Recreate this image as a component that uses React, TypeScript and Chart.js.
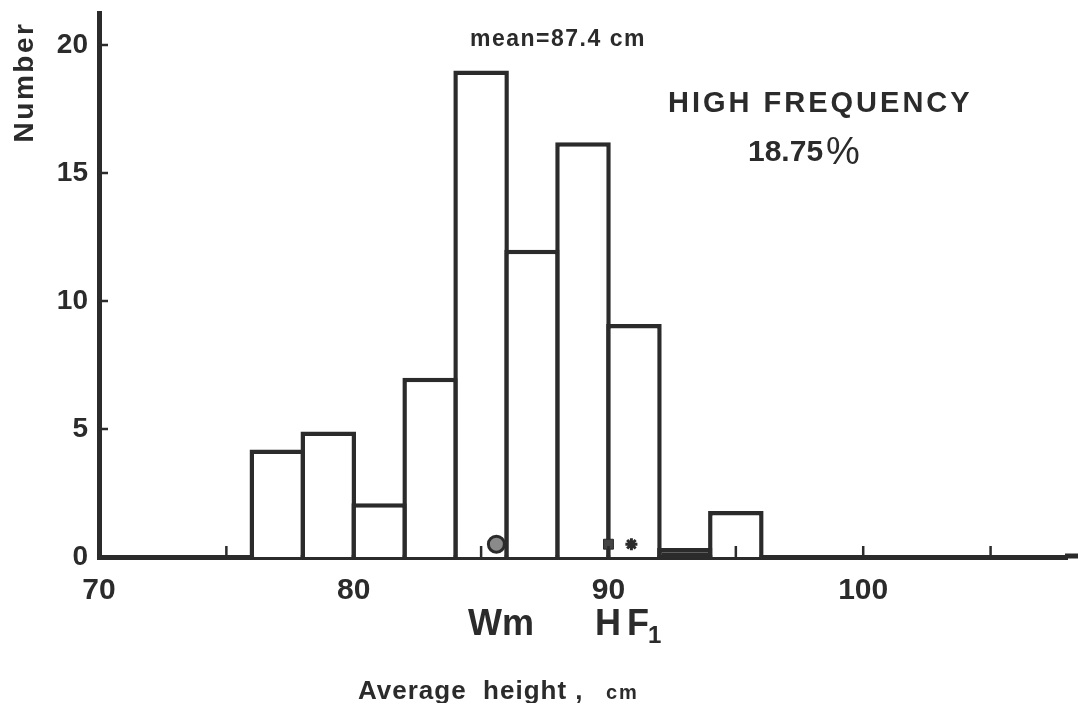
import React, { useEffect, useRef } from "react";
import { Chart, registerables } from "chart.js";

Chart.register(...registerables);

// ---- data ----
const BIN_STARTS = [76, 78, 80, 82, 84, 86, 88, 90, 92, 94];
const BIN_WIDTH = 2;
const COUNTS = [4.2, 4.9, 2.1, 7.0, 19.0, 12.0, 16.2, 9.1, 0.35, 1.8];
const BAR_FILLS = ["#fff", "#fff", "#fff", "#fff", "#fff", "#fff", "#fff", "#fff", "#2b2b2b", "#fff"];
const MARKER_X = [85.6, 90.0, 90.9];
const MARKER_Y = [0.5, 0.5, 0.5];
const MARKER_STYLES = ["circle", "rect", "star"];
const MARKER_FILLS = ["#8a8a8a", "#444", "#333"];
const X_MIN = 70;
const X_MAX = 108;
const Y_MAX = 21.25;
const X_LABELED = [70, 80, 90, 100];
const Y_TICKS = [0, 5, 10, 15, 20];
const X_MINOR = [75, 80, 85, 90, 95, 100, 105];

const INK = "#2b2b2b";
const FONT = "'Liberation Sans', Arial, Helvetica, sans-serif";
const AXIS_W = 5;

const annotations = {
  id: "annotations",
  afterDatasetsDraw(chart: any) {
    const { ctx, scales } = chart;
    const xs = scales.x;
    const ys = scales.y;
    ctx.save();
    ctx.strokeStyle = INK;
    ctx.lineCap = "butt";
    // baseline continues to the edge of the figure
    const yBase = ys.getPixelForValue(0);
    ctx.lineWidth = AXIS_W;
    ctx.beginPath();
    ctx.moveTo(xs.right - 2, yBase - 1);
    ctx.lineTo(chart.width, yBase - 1);
    ctx.stroke();
    // inner tick marks on y axis
    ctx.lineWidth = 2.5;
    for (const v of Y_TICKS) {
      if (v === 0) continue;
      const y = ys.getPixelForValue(v);
      ctx.beginPath();
      ctx.moveTo(xs.left, y);
      ctx.lineTo(xs.left + 9, y);
      ctx.stroke();
    }
    // inner tick marks on x axis
    for (const v of X_MINOR) {
      const x = xs.getPixelForValue(v);
      ctx.beginPath();
      ctx.moveTo(x, yBase);
      ctx.lineTo(x, yBase - 11);
      ctx.stroke();
    }

    ctx.fillStyle = INK;
    ctx.textBaseline = "alphabetic";
    ctx.textAlign = "left";

    // y title
    ctx.save();
    ctx.translate(33, 82);
    ctx.rotate(-Math.PI / 2);
    ctx.textAlign = "center";
    ctx.font = `bold 28px ${FONT}`;
    (ctx as any).letterSpacing = "2.5px";
    ctx.fillText("Number", 0, 0);
    ctx.restore();

    // mean
    ctx.font = `bold 23px ${FONT}`;
    (ctx as any).letterSpacing = "1.5px";
    ctx.fillText("mean=87.4 cm", 470, 46);

    // HIGH FREQUENCY
    ctx.font = `bold 29px ${FONT}`;
    (ctx as any).letterSpacing = "3px";
    ctx.fillText("HIGH FREQUENCY", 668, 112);
    (ctx as any).letterSpacing = "0px";
    ctx.font = `bold 30px ${FONT}`;
    ctx.fillText("18.75", 748, 161);
    ctx.font = `38px ${FONT}`;
    ctx.fillText("%", 826, 164);

    // Wm, HF1
    ctx.font = `bold 36px ${FONT}`;
    ctx.fillText("Wm", 468, 635);
    ctx.fillText("H", 595, 635);
    ctx.fillText("F", 627, 635);
    ctx.font = `bold 24px ${FONT}`;
    ctx.fillText("1", 648, 643);

    // x title
    ctx.font = `bold 26px ${FONT}`;
    (ctx as any).letterSpacing = "1px";
    ctx.fillText("Average  height ,", 358, 699);
    ctx.font = `bold 20px ${FONT}`;
    (ctx as any).letterSpacing = "2px";
    ctx.fillText("cm", 606, 699);
    ctx.restore();
  },
};

export default function App() {
  const ref = useRef<HTMLCanvasElement | null>(null);

  useEffect(() => {
    if (!ref.current) return;
    const barData = BIN_STARTS.map((s, i) => ({ x: s + BIN_WIDTH / 2, y: COUNTS[i] }));
    const markerData = MARKER_X.map((x, i) => ({ x, y: MARKER_Y[i] }));
    const chart = new Chart(ref.current, {
      type: "bar",
      data: {
        datasets: [
          {
            type: "bar",
            data: barData as any,
            backgroundColor: BAR_FILLS,
            borderColor: INK,
            borderWidth: 4.5,
            borderSkipped: "bottom",
            barPercentage: 1.09,
            categoryPercentage: 1,
            grouped: false,
            order: 1,
          } as any,
          {
            type: "scatter",
            data: markerData as any,
            pointStyle: MARKER_STYLES as any,
            pointRadius: [8, 7, 6],
            backgroundColor: MARKER_FILLS,
            borderColor: INK,
            borderWidth: [3, 1, 3],
            order: 0,
          } as any,
        ],
      },
      options: {
        animation: false,
        responsive: false,
        maintainAspectRatio: false,
        layout: { padding: { top: 13, left: 0, right: 0, bottom: 0 } },
        plugins: {
          legend: { display: false },
          tooltip: { enabled: false },
          title: { display: false },
        },
        scales: {
          x: {
            type: "linear",
            min: X_MIN,
            max: X_MAX,
            offset: false,
            grid: { display: false, drawTicks: false },
            border: { display: true, color: INK, width: AXIS_W },
            ticks: {
              stepSize: 5,
              autoSkip: false,
              maxRotation: 0,
              padding: 16,
              color: INK,
              font: { family: FONT, size: 30, weight: "bold" },
              callback: (v: any) => (X_LABELED.includes(Number(v)) ? String(v) : ""),
            },
            afterFit: (s: any) => {
              s.height = 146;
              s.paddingLeft = 0;
              s.paddingRight = 0;
            },
          },
          y: {
            type: "linear",
            min: 0,
            max: Y_MAX,
            grid: { display: false, drawTicks: false },
            border: { display: true, color: INK, width: AXIS_W },
            ticks: {
              stepSize: 5,
              autoSkip: false,
              padding: 11,
              color: INK,
              font: { family: FONT, size: 28, weight: "bold" },
              callback: (v: any) => (Y_TICKS.includes(Number(v)) ? String(v) : ""),
            },
            afterFit: (s: any) => {
              s.width = 99;
              s.paddingTop = 0;
              s.paddingBottom = 0;
            },
          },
        },
      },
      plugins: [annotations],
    });
    return () => chart.destroy();
  }, []);

  return (
    <div style={{ position: "fixed", left: 0, top: 0, width: 1078, height: 703, background: "#fff" }}>
      <canvas ref={ref} width={1078} height={703} style={{ display: "block" }} />
    </div>
  );
}
